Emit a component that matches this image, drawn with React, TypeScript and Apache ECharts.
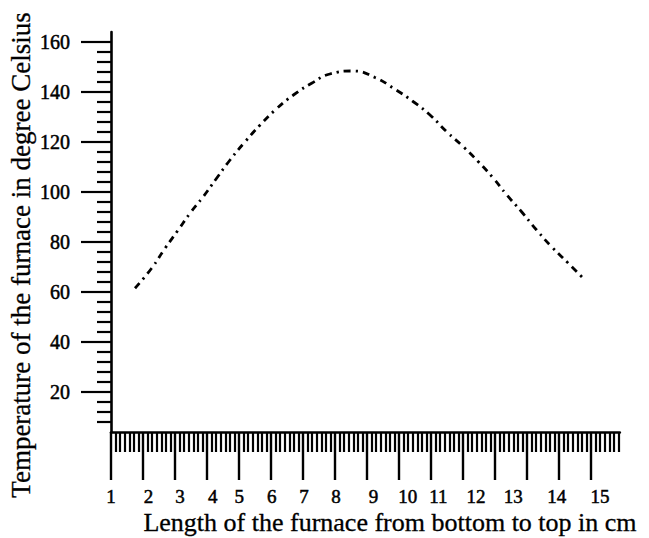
import React, { useEffect, useRef } from "react";
import * as echarts from "echarts";

// Curve: length (cm) and temperature (°C)
const lengths = [1.75, 2.27, 2.69, 3.1, 3.47, 3.88, 4.3, 4.72, 5.19, 5.66, 6.13, 6.7, 7.27, 7.84, 8.57, 9.25, 9.85, 10.45, 10.97, 11.49, 12.01, 12.48, 12.95, 13.37, 13.83, 14.3, 14.77, 15.29, 15.81];
const temps = [61.5, 69.5, 77.5, 84.8, 91.5, 98.1, 105.5, 112.8, 120.1, 126.8, 132.8, 138.8, 143.5, 147.2, 148.4, 145.8, 141.3, 136.1, 130.8, 124.1, 118.1, 112.1, 105.5, 98.8, 92.1, 84.8, 78.1, 71.5, 64.8];

// Axis ticks and labels
const yLabels = [20, 40, 60, 80, 100, 120, 140, 160];
const xMajorTicks = [1, 2, 3, 4, 5, 6, 7, 8, 9, 10, 11, 12, 13, 14, 15, 16];
const xTickLabels = ["1", "2", "3", "4", "5", "6", "7", "8", "9", "10", "11", "12", "13", "14", "15"];
// where each hand-lettered label sits along the axis (axis units)
const xLabelAt = [1.0, 2.17, 3.16, 4.18, 5.01, 6.02, 7.03, 8.03, 9.2, 10.27, 11.23, 12.41, 13.57, 14.93, 16.28];

const X_MIN = 1;
const X_MAX = 16.9;
const Y_MIN = 4;
const Y_MAX = 164;

const xMinorTicks: number[] = [];
for (let i = 1; i < 17; i++) {
  for (let k = 1; k < 7; k++) {
    const v = i + k / 7;
    if (v < X_MAX) xMinorTicks.push(v);
  }
}
const yMinorTicks: number[] = [];
for (let v = 8; v < 160; v += 4) {
  if (v % 20 !== 0) yMinorTicks.push(v);
}

const FONT = "Liberation Serif";

export default function App() {
  const ref = useRef<HTMLDivElement>(null);
  useEffect(() => {
    const chart = echarts.init(ref.current!, null, { renderer: "svg" });
    const data = lengths.map((x, i) => [x, temps[i]]);
    const option: any = {
      animation: false,
      backgroundColor: "#fff",
      grid: { left: 111, top: 32, width: 508.8, height: 400, containLabel: false },
      xAxis: [
        {
          type: "value",
          position: "bottom",
          min: X_MIN,
          max: X_MAX,
          axisLine: { show: true, onZero: false, lineStyle: { color: "#000", width: 2.6 } },
          axisTick: { show: true, customValues: xMajorTicks, length: 48, lineStyle: { color: "#000", width: 2.4 } },
          axisLabel: {
            show: true,
            customValues: xLabelAt,
            margin: 55,
            color: "#000",
            fontFamily: FONT,
            fontSize: 19,
            textBorderColor: "#000",
            textBorderWidth: 0.5,
            formatter: (v: number) => {
              const i = xLabelAt.findIndex((p) => Math.abs(p - v) < 1e-6);
              return i >= 0 ? xTickLabels[i] : "";
            },
          },
          splitLine: { show: false },
        },
        {
          type: "value",
          position: "bottom",
          min: X_MIN,
          max: X_MAX,
          axisLine: { show: false, onZero: false },
          axisTick: { show: true, customValues: xMinorTicks, length: 20, lineStyle: { color: "#000", width: 2.2 } },
          axisLabel: { show: false },
          splitLine: { show: false },
        },
      ],
      yAxis: [
        {
          type: "value",
          position: "left",
          min: Y_MIN,
          max: Y_MAX,
          axisLine: { show: true, onZero: false, lineStyle: { color: "#000", width: 2.6 } },
          axisTick: { show: true, customValues: yLabels, length: 30, lineStyle: { color: "#000", width: 2.2 } },
          axisLabel: {
            show: true,
            customValues: yLabels,
            margin: 41,
            color: "#000",
            fontFamily: FONT,
            fontSize: 20,
            textBorderColor: "#000",
            textBorderWidth: 0.5,
          },
          splitLine: { show: false },
        },
        {
          type: "value",
          position: "left",
          min: Y_MIN,
          max: Y_MAX,
          axisLine: { show: false, onZero: false },
          axisTick: { show: true, customValues: yMinorTicks, length: 14, lineStyle: { color: "#000", width: 2.2 } },
          axisLabel: { show: false },
          splitLine: { show: false },
        },
      ],
      graphic: [
        {
          type: "text",
          x: 390,
          y: 522,
          style: {
            text: "Length of the furnace from bottom to top in cm",
            font: `26px "${FONT}"`,
            fill: "#000",
            stroke: "#000",
            lineWidth: 0.3,
            textAlign: "center",
            textVerticalAlign: "middle",
          },
        },
        {
          type: "text",
          x: 21,
          y: 255,
          rotation: Math.PI / 2,
          style: {
            text: "Temperature of the furnace in degree Celsius",
            font: `27px "${FONT}"`,
            fill: "#000",
            stroke: "#000",
            lineWidth: 0.3,
            textAlign: "center",
            textVerticalAlign: "middle",
          },
        },
      ],
      series: [
        {
          type: "line",
          data,
          xAxisIndex: 0,
          yAxisIndex: 0,
          smooth: true,
          symbol: "none",
          lineStyle: { color: "#000", width: 2.8, type: [7, 5, 2.2, 5] },
        },
      ],
    };
    chart.setOption(option);
    return () => chart.dispose();
  }, []);
  return (
    <div
      ref={ref}
      style={{ position: "fixed", left: 0, top: 0, width: 649, height: 538, background: "#fff" }}
    />
  );
}
